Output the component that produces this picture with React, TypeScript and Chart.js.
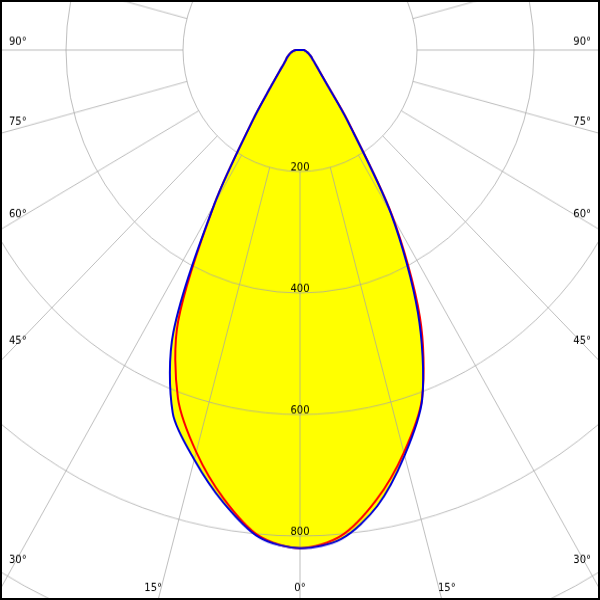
import React, { useEffect, useRef } from 'react';
import { Chart, registerables } from 'chart.js';

Chart.register(...registerables);

// Gamma angles (degrees from nadir) for one half-plane
const gammaAngles = [0, 5, 10, 15, 20, 25, 30, 35, 40, 45, 50, 55, 60, 65, 70, 75, 80, 85, 90,
  95, 100, 105, 110, 115, 120, 125, 130, 135, 140, 145, 150, 155, 160, 165, 170, 175, 180];

// Luminous intensity (cd/klm) – blue curve, left and right half-planes
const blueLeft = [820, 805, 756, 698, 636, 512, 292, 140, 75, 50, 37, 30, 26, 22, 19, 16, 13, 10, 7,
  0, 0, 0, 0, 0, 0, 0, 0, 0, 0, 0, 0, 0, 0, 0, 0, 0, 0];
const blueRight = [820, 808, 762, 691, 611, 477, 312, 140, 66, 44, 33, 26, 22, 18, 15, 12, 10, 8, 7,
  0, 0, 0, 0, 0, 0, 0, 0, 0, 0, 0, 0, 0, 0, 0, 0, 0, 0];
// red curve
const redLeft = [820, 803, 750, 685, 610, 493, 292, 140, 75, 50, 37, 30, 26, 22, 19, 16, 13, 10, 7,
  0, 0, 0, 0, 0, 0, 0, 0, 0, 0, 0, 0, 0, 0, 0, 0, 0, 0];
const redRight = [820, 803, 752, 686, 610, 485, 316, 142, 67, 44, 33, 26, 22, 18, 15, 12, 10, 8, 7,
  0, 0, 0, 0, 0, 0, 0, 0, 0, 0, 0, 0, 0, 0, 0, 0, 0, 0];

const radialTicks = [200, 400, 600, 800];
const angleMarks = [0, 15, 30, 45, 60, 75, 90];
const scaleMax = 1200;
const ringStep = 200;
const innerRing = 200;

// layout
const CANVAS = 1404;
const STRETCH = 1.0385;
const OFF_X = -402;
const OFF_Y = -679;

const GRID = 'rgba(165,165,165,0.72)';
const BLUE = '#0000d8';
const RED = '#ff0000';
const YELLOW = '#ffff00';
const FONT = '10px "DejaVu Sans"';

const half = gammaAngles.length - 1; // index of 180°
const labels = [...gammaAngles, ...gammaAngles.slice(1, half).reverse()];
const loop = (left: number[], right: number[]) => [...left, ...right.slice(1, half).reverse()];

const polarDecor = {
  id: 'polarDecor',
  beforeDatasetsDraw(chart: any) {
    const s = chart.scales.r;
    const ctx = chart.ctx;
    ctx.save();
    ctx.strokeStyle = GRID;
    ctx.lineWidth = 1;
    (chart.data.labels as number[]).forEach((g, i) => {
      if (g % 15 !== 0) return;
      const a = s.getPointPositionForValue(i, innerRing);
      const b = s.getPointPositionForValue(i, scaleMax);
      ctx.beginPath();
      ctx.moveTo(a.x, a.y);
      ctx.lineTo(b.x, b.y);
      ctx.stroke();
    });
    ctx.restore();
  },
  afterDraw(chart: any) {
    const s = chart.scales.r;
    const ctx = chart.ctx;
    ctx.save();
    ctx.font = FONT;
    ctx.fillStyle = '#000';
    ctx.textBaseline = 'middle';
    ctx.textAlign = 'center';
    radialTicks.forEach((v) => {
      const p = s.getPointPositionForValue(0, v);
      ctx.fillText(String(v), p.x, p.y - 4);
    });
    const bottomY = (588.5 - OFF_Y) / STRETCH;
    angleMarks.forEach((g) => {
      const sides = g === 0 ? [0] : [-1, 1];
      sides.forEach((side) => {
        const idx = side <= 0 ? g / 5 : labels.length - g / 5;
        const p = s.getPointPositionForValue(idx, 1000);
        const dx = p.x - s.xCenter;
        const dy = p.y - s.yCenter;
        const text = `${g}°`;
        if (Math.abs(dx) > 1e-6) {
          const xa = (dx < 0 ? 12 : 588) - OFF_X;
          const t = (xa - s.xCenter) / dx;
          const ya = s.yCenter + t * dy;
          if (ya * STRETCH + OFF_Y < 580) {
            ctx.textAlign = dx < 0 ? 'left' : 'right';
            ctx.fillText(text, (dx < 0 ? 9 : 591) - OFF_X, ya - 8 / STRETCH);
            return;
          }
        }
        const t = (bottomY - s.yCenter) / dy;
        const xb = s.xCenter + t * dx;
        if (Math.abs(dx) < 1e-6) {
          ctx.textAlign = 'center';
          ctx.fillText(text, xb, bottomY);
        } else if (dx < 0) {
          ctx.textAlign = 'right';
          ctx.fillText(text, xb + 1, bottomY);
        } else {
          ctx.textAlign = 'left';
          ctx.fillText(text, xb - 1, bottomY);
        }
      });
    });
    ctx.restore();
  },
};

export default function App() {
  const ref = useRef<HTMLCanvasElement | null>(null);
  useEffect(() => {
    if (!ref.current) return;
    const chart = new Chart(ref.current, {
      type: 'radar',
      data: {
        labels,
        datasets: [
          {
            label: 'C0-C180',
            data: loop(blueLeft, blueRight),
            borderColor: BLUE,
            borderWidth: 2,
            backgroundColor: YELLOW,
            fill: true,
            pointRadius: 0,
            tension: 0.3,
          },
          {
            label: 'C90-C270',
            data: loop(redLeft, redRight),
            borderColor: RED,
            borderWidth: 2,
            backgroundColor: YELLOW,
            fill: true,
            pointRadius: 0,
            tension: 0.3,
          },
        ],
      },
      options: {
        responsive: false,
        animation: false,
        devicePixelRatio: 1,
        layout: { padding: 0 },
        plugins: {
          legend: { display: false },
          tooltip: { enabled: false },
          filler: { drawTime: 'beforeDraw' },
        } as any,
        scales: {
          r: {
            min: 0,
            max: scaleMax,
            startAngle: 180,
            ticks: { display: false, stepSize: ringStep },
            pointLabels: { display: false },
            angleLines: { display: false },
            grid: { circular: true, color: GRID, lineWidth: 1 },
          },
        },
      } as any,
      plugins: [polarDecor],
    });
    return () => chart.destroy();
  }, []);

  return (
    <div style={{ position: 'fixed', left: 0, top: 0, width: 600, height: 600, overflow: 'hidden', background: '#fff' }}>
      <canvas
        ref={ref}
        width={CANVAS}
        height={CANVAS}
        style={{ position: 'absolute', left: OFF_X, top: OFF_Y, width: CANVAS, height: CANVAS * STRETCH }}
      />
      <div style={{ position: 'absolute', left: 0, top: 0, width: 600, height: 600, boxSizing: 'border-box', border: '2px solid #000', pointerEvents: 'none' }} />
    </div>
  );
}
